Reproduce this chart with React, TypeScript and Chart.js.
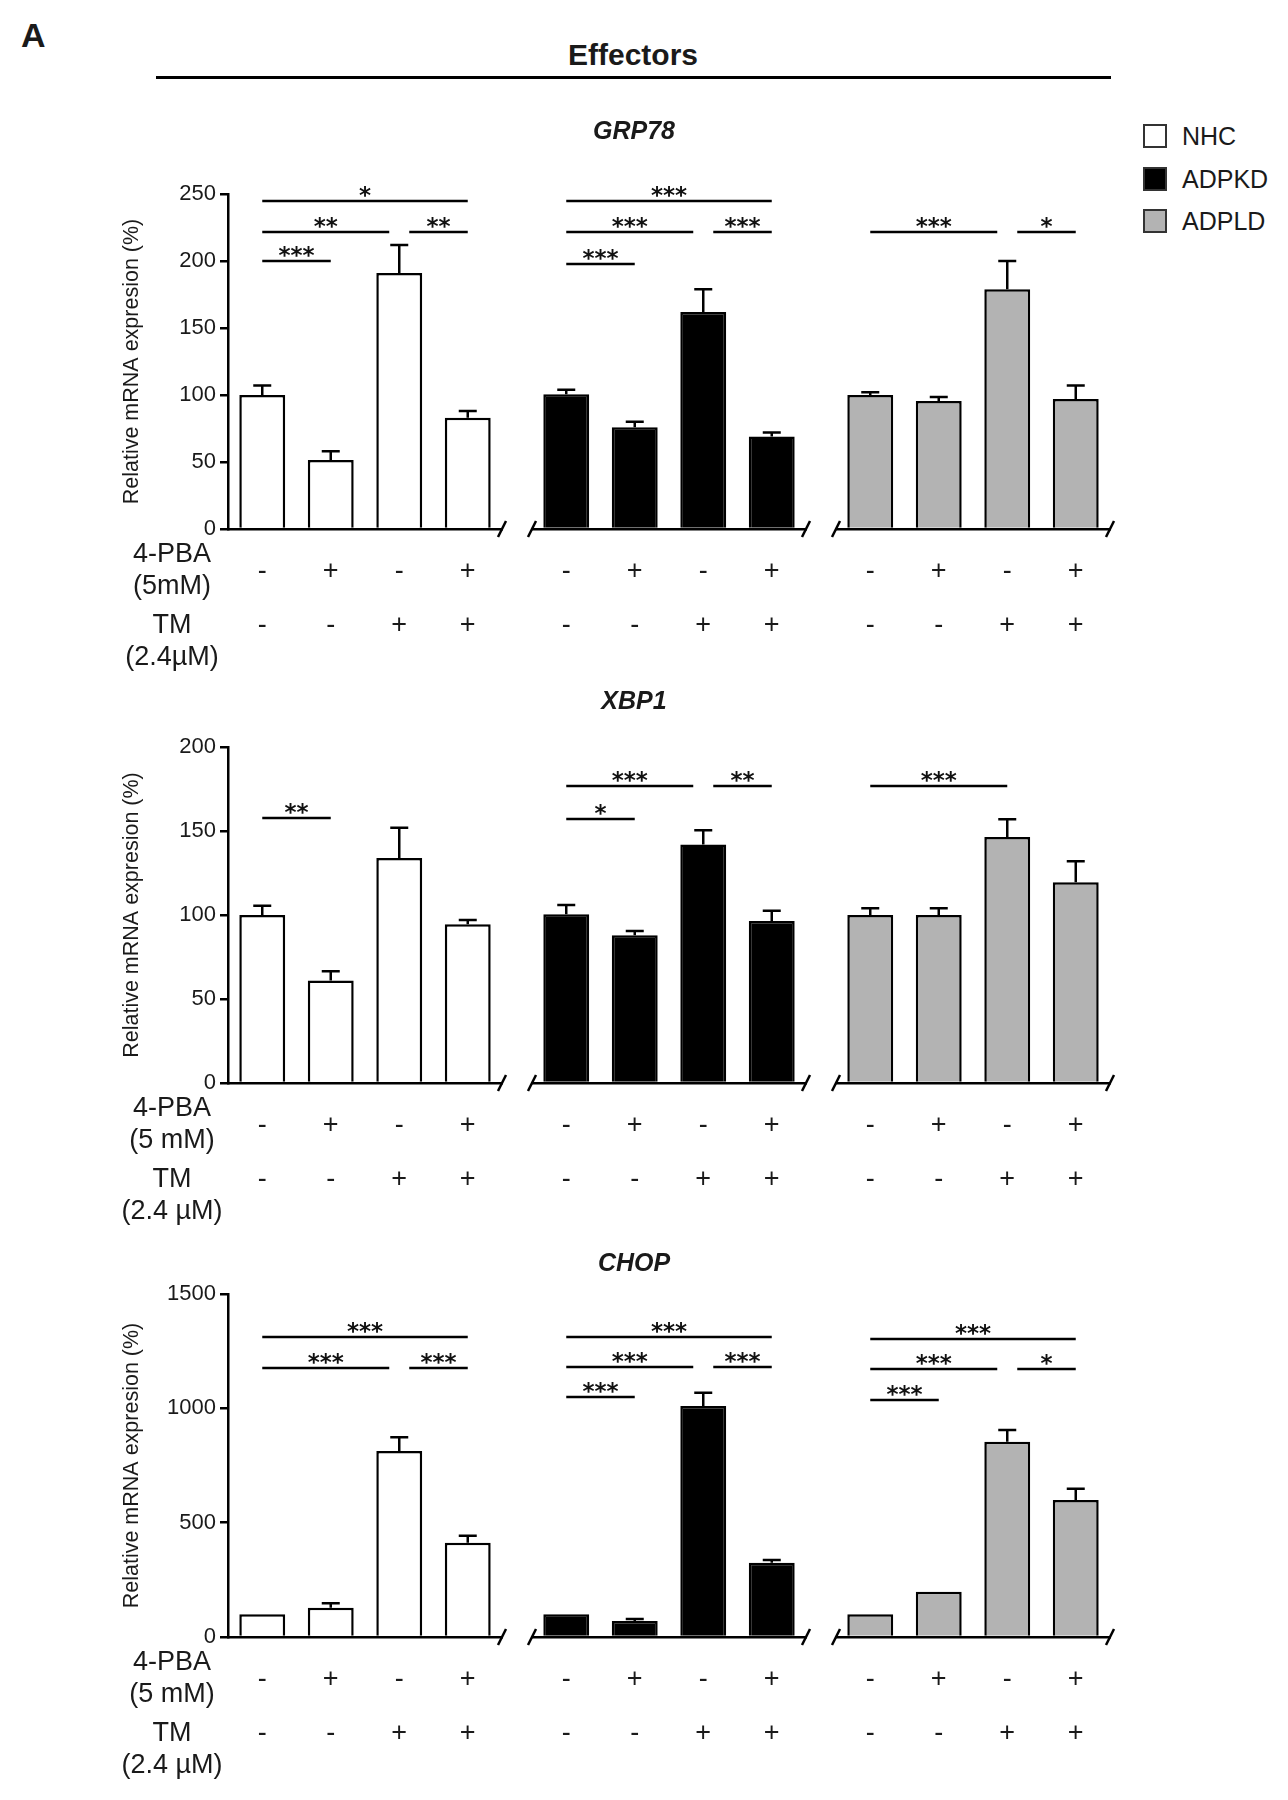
import React, { useEffect, useRef } from 'react';
import { Chart, registerables } from 'chart.js';

Chart.register(...registerables);

const FONT = "'Liberation Sans', Arial, Helvetica, sans-serif";
const STAR_FONT = "'DejaVu Sans', sans-serif";

// ---------- data ----------
const groupNames = ['NHC', 'ADPKD', 'ADPLD'];
const groupFills = ['#ffffff', '#000000', '#b3b3b3'];
const pbaSigns = ['-', '+', '-', '+'];
const tmSigns = ['-', '-', '+', '+'];

// [min, max, step]
const grp78Axis = [0, 250, 50];
const grp78Means = [
  [100, 51.5, 191, 83],
  [100.5, 76, 162, 69],
  [100, 95.5, 179, 97],
];
const grp78Errors = [
  [7, 6.5, 21, 5],
  [3.5, 4, 17, 3],
  [2, 3, 21, 10],
];
// [fromBar, toBar, level, label]
const grp78Sig = [
  [[0, 3, 245, '*'], [0, 2, 222, '**'], [2, 3, 222, '**'], [0, 1, 200, '***']],
  [[0, 3, 245, '***'], [0, 2, 222, '***'], [2, 3, 222, '***'], [0, 1, 198, '***']],
  [[0, 2, 222, '***'], [2, 3, 222, '*']],
];
const grp78RowLabels = [['4-PBA', '(5mM)'], ['TM', '(2.4µM)']];

const xbp1Axis = [0, 200, 50];
const xbp1Means = [
  [100, 61, 134, 94.5],
  [100.5, 88, 142, 96.5],
  [100, 100, 146.5, 119.5],
];
const xbp1Errors = [
  [5.5, 5.5, 18, 2.5],
  [5.5, 2.5, 8.5, 6],
  [4, 4, 10.5, 12.5],
];
const xbp1Sig = [
  [[0, 1, 157.5, '**']],
  [[0, 2, 177, '***'], [2, 3, 177, '**'], [0, 1, 157, '*']],
  [[0, 2, 177, '***']],
];
const xbp1RowLabels = [['4-PBA', '(5 mM)'], ['TM', '(2.4 µM)']];

const chopAxis = [0, 1500, 500];
const chopMeans = [
  [100, 128, 813, 412],
  [100, 70, 1010, 325],
  [100, 198, 854, 599],
];
const chopErrors = [
  [0, 20, 61, 31],
  [0, 9, 58, 12],
  [0, 0, 51, 49],
];
const chopSig = [
  [[0, 3, 1313, '***'], [0, 2, 1178, '***'], [2, 3, 1178, '***']],
  [[0, 3, 1313, '***'], [0, 2, 1180, '***'], [2, 3, 1180, '***'], [0, 1, 1049, '***']],
  [[0, 3, 1303, '***'], [0, 2, 1172, '***'], [2, 3, 1172, '*'], [0, 1, 1036, '***']],
];
const chopRowLabels = [['4-PBA', '(5 mM)'], ['TM', '(2.4 µM)']];

const yTitle = 'Relative mRNA expresion (%)';

// ---------- layout ----------
const PLOT_LEFT = 228;
const PLOT_RIGHT = 1110;
const GROUP_W = 274;
const GAP_W = 30;
const X_AXIS_H = 140;
const PAD_TOP = 50;
const PAD_BOTTOM = 10;

const panels = [
  { gene: 'GRP78', axis: grp78Axis, means: grp78Means, errors: grp78Errors, sig: grp78Sig, rows: grp78RowLabels, top: 194, bottom: 529, titleY: 130 },
  { gene: 'XBP1', axis: xbp1Axis, means: xbp1Means, errors: xbp1Errors, sig: xbp1Sig, rows: xbp1RowLabels, top: 747, bottom: 1083, titleY: 700 },
  { gene: 'CHOP', axis: chopAxis, means: chopMeans, errors: chopErrors, sig: chopSig, rows: chopRowLabels, top: 1294, bottom: 1637, titleY: 1262 },
];

function GeneChart({ p }: { p: any }) {
  const ref = useRef<HTMLCanvasElement | null>(null);
  const canvasTop = p.top - PAD_TOP;
  const height = p.bottom - p.top + PAD_TOP + X_AXIS_H + PAD_BOTTOM;

  useEffect(() => {
    const canvas = ref.current;
    if (!canvas) return;
    const signLabels = pbaSigns.map((s, i) => [s, tmSigns[i]]);

    const scales: any = {
      y: {
        type: 'linear',
        position: 'left',
        min: p.axis[0],
        max: p.axis[1],
        ticks: {
          stepSize: p.axis[2],
          font: { family: FONT, size: 22 },
          color: '#1a1a1a',
          padding: 4,
          callback: (v: any) => String(v),
        },
        grid: { drawOnChartArea: false, drawTicks: true, tickLength: 8, lineWidth: 2.5, color: '#000' },
        border: { display: true, color: '#000', width: 2.5 },
        title: {
          display: true,
          text: yTitle,
          font: { family: FONT, size: 21.5 },
          color: '#1a1a1a',
          padding: { top: 119, bottom: 0 },
        },
        afterFit: (s: any) => { s.width = PLOT_LEFT; },
      },
    };
    groupNames.forEach((g, gi) => {
      if (gi > 0) {
        scales['gap' + gi] = {
          type: 'linear', axis: 'x', position: 'bottom', stack: 'groups', stackWeight: GAP_W,
          display: true,
          grid: { display: false, drawTicks: false },
          border: { display: false },
          ticks: { display: false },
          afterFit: (s: any) => { s.height = X_AXIS_H; },
        };
      }
      scales['x' + gi] = {
        type: 'category', axis: 'x', position: 'bottom', stack: 'groups', stackWeight: GROUP_W,
        labels: signLabels,
        offset: true,
        grid: { display: false, drawTicks: false },
        border: { display: true, color: '#000', width: 2.5 },
        ticks: {
          font: { family: FONT, size: 27, lineHeight: 54 / 27 },
          color: '#1a1a1a', padding: 16, maxRotation: 0, minRotation: 0, autoSkip: false,
        },
        afterFit: (s: any) => { s.height = X_AXIS_H; },
      };
    });

    const decorations = {
      id: 'decorations',
      afterDatasetsDraw(chart: any) {
        const ctx = chart.ctx;
        const ys = chart.scales.y;
        ctx.save();
        ctx.strokeStyle = '#000';
        ctx.lineWidth = 2.5;
        chart.data.datasets.forEach((ds: any, di: number) => {
          const meta = chart.getDatasetMeta(di);
          meta.data.forEach((el: any, i: number) => {
            const e = ds.errors[i];
            if (!e) return;
            const yTop = ys.getPixelForValue(ds.data[i] + e);
            ctx.beginPath();
            ctx.moveTo(el.x, el.y);
            ctx.lineTo(el.x, yTop);
            ctx.moveTo(el.x - 9, yTop);
            ctx.lineTo(el.x + 9, yTop);
            ctx.stroke();
          });
        });
        ctx.restore();
      },
      afterDraw(chart: any) {
        const ctx = chart.ctx;
        const ys = chart.scales.y;
        ctx.save();
        ctx.strokeStyle = '#000';
        ctx.fillStyle = '#111';
        ctx.lineWidth = 2.5;
        // significance brackets
        p.sig.forEach((list: any[], gi: number) => {
          const xs = chart.scales['x' + gi];
          list.forEach((br: any[]) => {
            const [a, b, lvl, label] = br;
            const shareLeft = list.some((o) => o !== br && o[2] === lvl && o[1] === a);
            const shareRight = list.some((o) => o !== br && o[2] === lvl && o[0] === b);
            const x1 = xs.getPixelForTick(a) + (shareLeft ? 10 : 0);
            const x2 = xs.getPixelForTick(b) - (shareRight ? 10 : 0);
            const y = Math.round(ys.getPixelForValue(lvl));
            ctx.beginPath();
            ctx.moveTo(x1, y);
            ctx.lineTo(x2, y);
            ctx.stroke();
            ctx.font = `bold 23px ${STAR_FONT}`;
            ctx.textAlign = 'center';
            ctx.textBaseline = 'alphabetic';
            ctx.fillText(label, (x1 + x2) / 2, y + 2);
          });
        });
        // axis breaks
        groupNames.forEach((g, gi) => {
          const xs = chart.scales['x' + gi];
          const y = xs.top;
          const marks = gi > 0 ? [xs.left, xs.right] : [xs.right];
          marks.forEach((mx: number) => {
            ctx.beginPath();
            ctx.moveTo(mx - 4, y + 8);
            ctx.lineTo(mx + 4, y - 8);
            ctx.stroke();
          });
        });
        // row labels
        const axisY = chart.scales.x0.top;
        ctx.font = `27px ${FONT}`;
        ctx.fillStyle = '#1a1a1a';
        ctx.textAlign = 'center';
        ctx.textBaseline = 'middle';
        const offs = [[26, 58], [97, 129]];
        p.rows.forEach((lines: string[], ri: number) => {
          lines.forEach((t: string, li: number) => {
            ctx.fillText(t, 172, axisY + offs[ri][li]);
          });
        });
        ctx.restore();
      },
    };

    const chart = new Chart(canvas, {
      type: 'bar',
      data: {
        datasets: groupNames.map((g, gi) => ({
          label: g,
          data: p.means[gi],
          errors: p.errors[gi],
          xAxisID: 'x' + gi,
          yAxisID: 'y',
          backgroundColor: groupFills[gi],
          borderColor: '#000',
          borderWidth: 2.5,
          barPercentage: 0.67,
          categoryPercentage: 1,
          grouped: false,
        })) as any,
      },
      options: {
        responsive: false,
        animation: false,
        devicePixelRatio: 1,
        layout: { padding: { top: PAD_TOP, bottom: PAD_BOTTOM, left: 0, right: 1288 - PLOT_RIGHT } },
        plugins: { legend: { display: false }, tooltip: { enabled: false }, title: { display: false } },
        scales,
      } as any,
      plugins: [decorations],
    });
    return () => chart.destroy();
  }, [p]);

  return (
    <>
      <canvas
        ref={ref}
        width={1288}
        height={height}
        style={{ position: 'absolute', left: 0, top: canvasTop, width: 1288, height }}
      />
      <div
        style={{
          position: 'absolute', left: 0, width: 1268, top: p.titleY - 15, lineHeight: '30px',
          textAlign: 'center', fontSize: 25, fontWeight: 'bold', fontStyle: 'italic',
        }}
      >
        {p.gene}
      </div>
    </>
  );
}

export default function App() {
  const legendTops = [124, 167, 209];
  return (
    <div style={{ position: 'relative', width: 1288, height: 1800, background: '#fff', fontFamily: FONT, color: '#1a1a1a', overflow: 'hidden' }}>
      <style>{'body{margin:0;background:#fff;}'}</style>
      <div style={{ position: 'absolute', left: 21, top: 15, fontSize: 34, fontWeight: 'bold', lineHeight: '40px' }}>A</div>
      <div style={{ position: 'absolute', left: 0, width: 1266, top: 37, textAlign: 'center', fontSize: 30, fontWeight: 'bold', lineHeight: '36px' }}>
        Effectors
      </div>
      <div style={{ position: 'absolute', left: 156, top: 76, width: 955, height: 2.5, background: '#000' }} />
      {groupNames.map((g, gi) => (
        <div key={g} style={{ position: 'absolute', left: 1143, top: legendTops[gi], height: 24, display: 'flex', alignItems: 'center' }}>
          <div style={{ width: 24, height: 24, boxSizing: 'border-box', border: '2px solid #333', background: groupFills[gi] }} />
          <div style={{ marginLeft: 15, fontSize: 25, lineHeight: '24px' }}>{g}</div>
        </div>
      ))}
      {panels.map((p) => (
        <GeneChart key={p.gene} p={p} />
      ))}
    </div>
  );
}
